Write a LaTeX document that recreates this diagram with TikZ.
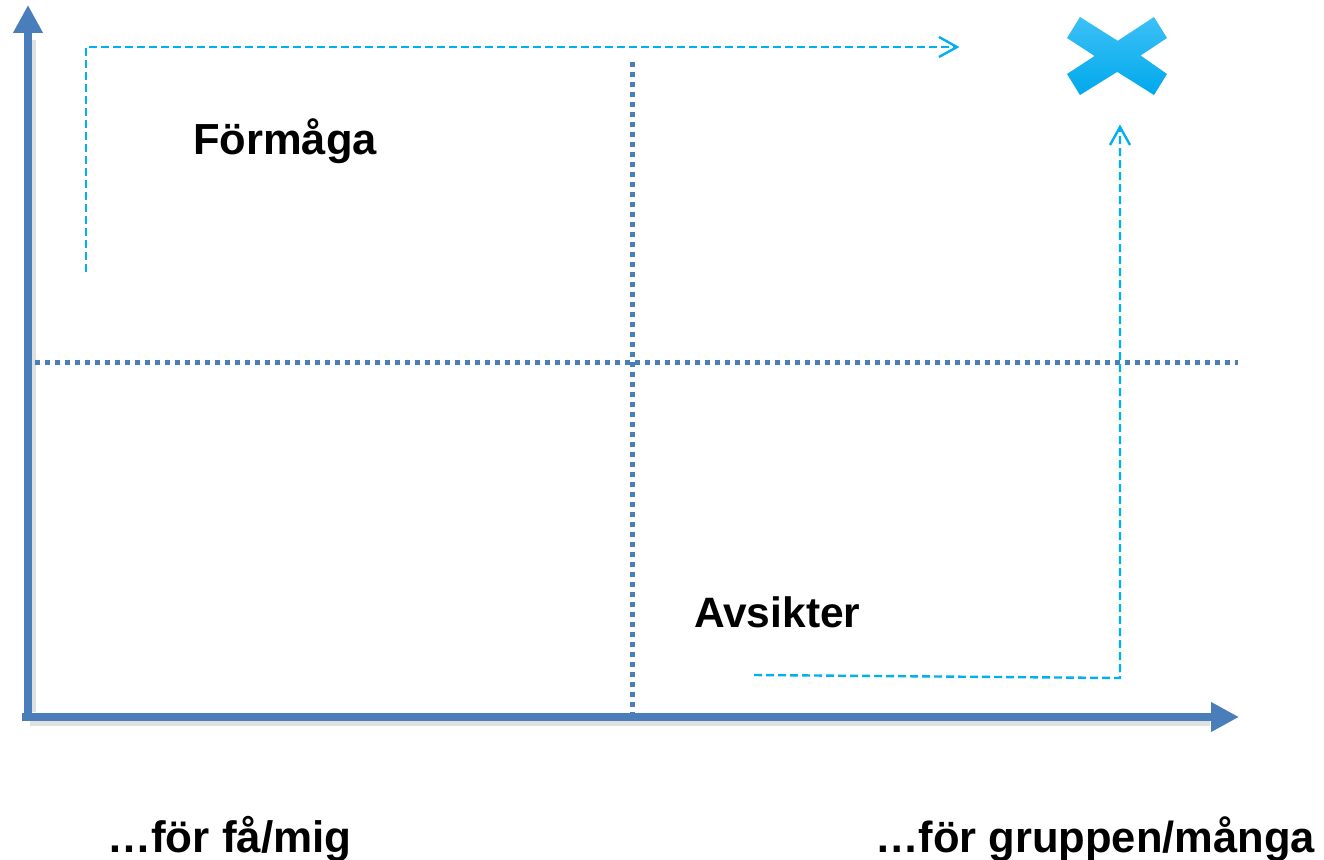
\documentclass[tikz,border=0pt]{standalone}
\usepackage{fontspec}
\setmainfont{Liberation Sans}
\usetikzlibrary{arrows.meta}
\definecolor{axisblue}{HTML}{4A7EBB}
\definecolor{cyanline}{HTML}{00B0F0}
\definecolor{crosstop}{HTML}{3CC0F6}
\definecolor{crossbot}{HTML}{00A9EC}
\tikzset{
  axis/.style={line width=8pt, draw=axisblue, -{Triangle[length=28pt,width=28pt]}},
  axisshadow/.style={line width=8pt, draw=black!12},
  divider/.style={line width=5pt, draw=axisblue, dash pattern=on 5pt off 5pt},
  flow/.style={line width=2.4pt, draw=cyanline, dash pattern=on 8pt off 4pt},
  barb/.style={line width=2.4pt, draw=cyanline, line join=miter},
  label/.style={font=\bfseries, inner sep=0pt, anchor=base west},
}
\begin{document}
\begin{tikzpicture}[x=1pt,y=-1pt]
\useasboundingbox[fill=white] (0,0) rectangle (1324,859);
% coordinates
\coordinate (ytip) at (28,5);
\coordinate (xtip) at (1239,717);
% shadows
\draw[axisshadow] (30,722) -- (1210,722);
\draw[axisshadow] (32,40) -- (32,712);
% dividers
\draw[divider] (35,362) -- (1238,362);
\draw[divider] (632,62) -- (632,720);
% axes
\draw[axis] (28,719) -- (ytip);
\draw[axis] (22,717) -- (xtip);
% dashed flows
\coordinate (f1a) at (86,272);
\coordinate (f1b) at (86,47);
\coordinate (f1c) at (957,47);
\draw[flow] (f1a) -- (f1b) -- (f1c);
\draw[barb] (939,37) -- (f1c) -- (939,57);
\coordinate (f2a) at (754,675);
\coordinate (f2b) at (1120,678);
\coordinate (f2c) at (1120,127);
\draw[flow] (f2a) -- (f2b) -- (f2c);
\draw[barb] (1110,145) -- (f2c) -- (1130,145);
% cross
\shade[top color=crosstop, bottom color=crossbot]
  (1067,38) -- (1080,17) -- (1117.7,40.8) -- (1154,17) -- (1167,38)
  -- (1140.6,55.5) -- (1167,74) -- (1154,95) -- (1117.2,71.9) -- (1080,95)
  -- (1067,74) -- (1094.6,56) -- cycle;
% labels
\node[label, font=\bfseries\fontsize{43.5}{50}\selectfont] (formaga) at (193,154) {Förmåga};
\node[label, font=\bfseries\fontsize{42.5}{50}\selectfont] (avsikter) at (694,627) {Avsikter};
\node[label, font=\bfseries\fontsize{44}{50}\selectfont] (few) at (107,852) {…för få/mig};
\node[label, font=\bfseries\fontsize{43.5}{50}\selectfont] (many) at (875,852) {…för gruppen/många};
\end{tikzpicture}
\end{document}
